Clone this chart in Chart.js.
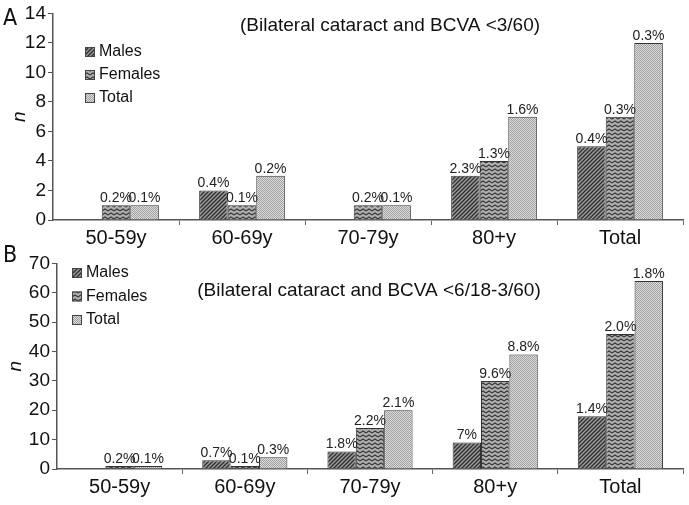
<!DOCTYPE html>
<html lang="en">
<head>
    <meta charset="UTF-8">
    <title>Bilateral cataract by age group</title>
    <script src="https://cdn.jsdelivr.net/npm/chart.js"></script>
    <style>
        body { margin: 0; background: #fff; }
        #wrap { position: relative; width: 689px; height: 505px; font-family: "Liberation Sans", Arial, sans-serif; }
        canvas { position: absolute; left: 0; }
        .panel { position: absolute; left: 3px; font-family: "DejaVu Sans Condensed", "DejaVu Sans", sans-serif; font-size: 23px; color: #111; }
    </style>
</head>
<body>
<div id="wrap">
    <canvas id="chartA" width="689" height="250" style="top:0"></canvas>
    <canvas id="chartB" width="689" height="255" style="top:250px"></canvas>
    <div class="panel" style="top:4px">A</div>
    <div class="panel" style="top:241px">B</div>
</div>

<script>
    // categories and series
    const categories = ['50-59y', '60-69y', '70-79y', '80+y', 'Total'];
    const seriesNames = ['Males', 'Females', 'Total'];

    // Panel A: bilateral cataract and BCVA <3/60
    const malesA = [0, 2, 0, 3, 5];
    const femalesA = [1, 1, 1, 4, 7];
    const totalA = [1, 3, 1, 7, 12];
    const malesPctA = ['', '0.4%', '', '2.3%', '0.4%'];
    const femalesPctA = ['0.2%', '0.1%', '0.2%', '1.3%', '0.3%'];
    const totalPctA = ['0.1%', '0.2%', '0.1%', '1.6%', '0.3%'];
    const yTicksA = [0, 2, 4, 6, 8, 10, 12, 14];

    // Panel B: bilateral cataract and BCVA <6/18-3/60
    const malesB = [0, 3, 6, 9, 18];
    const femalesB = [1, 1, 14, 30, 46];
    const totalB = [1, 4, 20, 39, 64];
    const malesPctB = ['', '0.7%', '1.8%', '7%', '1.4%'];
    const femalesPctB = ['0.2%', '0.1%', '2.2%', '9.6%', '2.0%'];
    const totalPctB = ['0.1%', '0.3%', '2.1%', '8.8%', '1.8%'];
    const yTicksB = [0, 10, 20, 30, 40, 50, 60, 70];

    // fill patterns (hatch, zigzag, dots)
    function makePattern(w, h, draw) {
        const c = document.createElement('canvas');
        c.width = w; c.height = h;
        draw(c.getContext('2d'));
        return c.getContext('2d').createPattern(c, 'repeat');
    }
    const hatch = makePattern(4, 4, g => {
        g.fillStyle = '#9a9a9a'; g.fillRect(0, 0, 4, 4);
        g.strokeStyle = '#2e2e2e'; g.lineWidth = 1.3;
        g.beginPath();
        g.moveTo(0, 4); g.lineTo(4, 0);
        g.moveTo(-1, 1); g.lineTo(1, -1);
        g.moveTo(3, 5); g.lineTo(5, 3);
        g.stroke();
    });
    const zigzag = makePattern(6, 4, g => {
        g.fillStyle = '#b0b0b0'; g.fillRect(0, 0, 6, 4);
        g.strokeStyle = '#383838'; g.lineWidth = 1.1;
        g.beginPath();
        g.moveTo(0, 3); g.lineTo(3, 1); g.lineTo(6, 3);
        g.stroke();
    });
    const dots = makePattern(2, 2, g => {
        g.fillStyle = '#dcdcdc'; g.fillRect(0, 0, 2, 2);
        g.fillStyle = '#a0a0a0'; g.fillRect(0, 0, 1, 1); g.fillRect(1, 1, 1, 1);
    });
    const fills = [hatch, zigzag, dots];

    // percentage labels above bars
    const pctLabels = {
        id: 'pctLabels',
        afterDatasetsDraw(chart) {
            const ctx = chart.ctx;
            ctx.save();
            ctx.font = '14px "Liberation Sans", Arial, sans-serif';
            ctx.fillStyle = '#222';
            ctx.textAlign = 'center';
            ctx.textBaseline = 'bottom';
            chart.data.datasets.forEach((ds, i) => {
                chart.getDatasetMeta(i).data.forEach((bar, j) => {
                    if (ds.pct[j]) ctx.fillText(ds.pct[j], bar.x, bar.y);
                });
            });
            ctx.restore();
        }
    };

    // legend and subtitle inside the plot area
    const innerLegend = {
        id: 'innerLegend',
        afterDraw(chart) {
            const o = chart.options.plugins.innerLegend;
            const ctx = chart.ctx;
            ctx.save();
            ctx.font = '16px "Liberation Sans", Arial, sans-serif';
            ctx.textBaseline = 'middle';
            chart.data.datasets.forEach((ds, i) => {
                const y = o.y + i * o.gap;
                ctx.fillStyle = ds.backgroundColor;
                ctx.fillRect(o.x, y - 5, 10, 10);
                ctx.strokeStyle = '#444';
                ctx.lineWidth = 1;
                ctx.strokeRect(o.x + 0.5, y - 4.5, 9, 9);
                ctx.fillStyle = '#111';
                ctx.fillText(ds.label, o.x + 14, y);
            });
            ctx.font = '19px "Liberation Sans", Arial, sans-serif';
            ctx.textAlign = 'center';
            ctx.fillText(o.title, o.titleX, o.titleY);
            ctx.restore();
        }
    };

    function makeChart(id, series, pcts, yTicks, cfg) {
        const ctx = document.getElementById(id).getContext('2d');
        return new Chart(ctx, {
            type: 'bar',
            data: {
                labels: categories,
                datasets: series.map((s, i) => ({
                    label: seriesNames[i],
                    data: s,
                    pct: pcts[i],
                    backgroundColor: fills[i],
                    borderColor: '#333',
                    borderWidth: 1,
                    barPercentage: 1,
                    categoryPercentage: 0.68
                }))
            },
            options: {
                responsive: false,
                animation: false,
                layout: { padding: { top: cfg.top, right: 6, left: 0, bottom: 0 } },
                plugins: {
                    legend: { display: false },
                    tooltip: { enabled: false },
                    innerLegend: cfg.legend
                },
                scales: {
                    x: {
                        afterFit: s => { s.height = cfg.xHeight; },
                        border: { color: '#555', width: 1.5 },
                        grid: {
                            offset: true,
                            drawOnChartArea: false,
                            tickLength: 5,
                            color: c => (c.index === 0 || c.index === categories.length) ? 'rgba(0,0,0,0)' : '#666'
                        },
                        ticks: { color: '#111', padding: 1, font: { size: 20, family: '"Liberation Sans", Arial, sans-serif' } }
                    },
                    y: {
                        min: yTicks[0],
                        max: yTicks[yTicks.length - 1],
                        afterFit: s => { s.width = cfg.yWidth; },
                        afterBuildTicks: s => { s.ticks = yTicks.map(v => ({ value: v })); },
                        border: { color: '#555', width: 1.5 },
                        grid: { drawOnChartArea: false, tickLength: 5, color: '#555' },
                        ticks: { color: '#111', padding: 2, font: { size: 19, family: '"Liberation Sans", Arial, sans-serif' } },
                        title: {
                            display: true,
                            text: 'n',
                            color: '#111',
                            padding: { top: cfg.titlePad, bottom: 0 },
                            font: { size: 19, style: 'italic', family: '"Liberation Sans", Arial, sans-serif' }
                        }
                    }
                }
            },
            plugins: [pctLabels, innerLegend]
        });
    }

    makeChart('chartA', [malesA, femalesA, totalA], [malesPctA, femalesPctA, totalPctA], yTicksA, {
        top: 13, xHeight: 30, yWidth: 53, titlePad: 8,
        legend: { x: 85, y: 52, gap: 23, title: '(Bilateral cataract and BCVA <3/60)', titleX: 390, titleY: 26 }
    });

    makeChart('chartB', [malesB, femalesB, totalB], [malesPctB, femalesPctB, totalPctB], yTicksB, {
        top: 12, xHeight: 36, yWidth: 57, titlePad: 4,
        legend: { x: 72, y: 23, gap: 23.5, title: '(Bilateral cataract and BCVA <6/18-3/60)', titleX: 369, titleY: 41 }
    });
</script>
</body>
</html>
